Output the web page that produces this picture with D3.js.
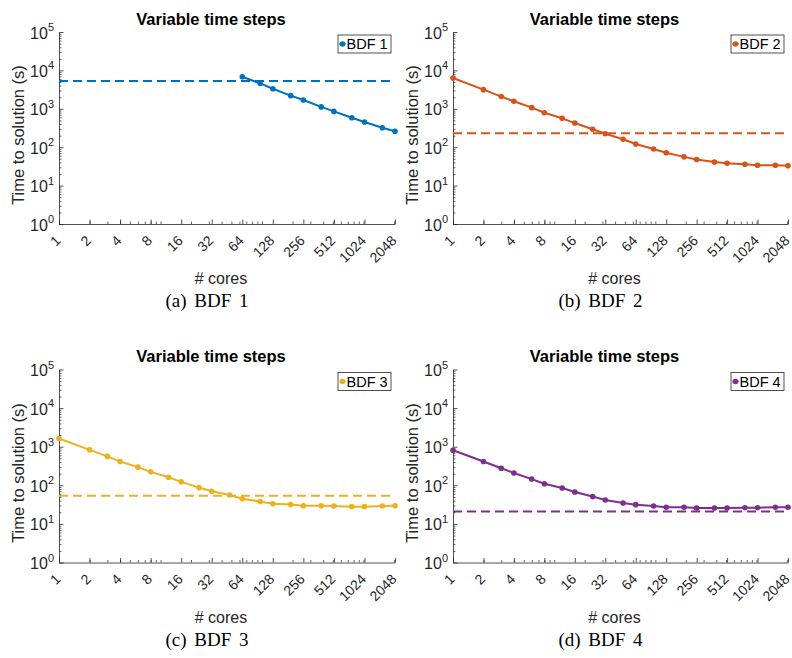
<!DOCTYPE html>
<html><head><meta charset="utf-8">
<script src="https://cdn.jsdelivr.net/npm/d3@7"></script>
<style>body{margin:0;background:#fff}</style>
</head><body><svg id="chart" width="792" height="658"></svg>
<script>
// ---------- data ----------
const cores = [1,2,3,4,6,8,12,16,24,32,48,64,96,128,192,256,384,512,768,1024,1536,2048];
const coresBDF1 = [64,96,128,192,256,384,512,768,1024,1536,2048];
const xTickValues = [1,2,4,8,16,32,64,128,256,512,1024,2048];
const yTickExponents = [0,1,2,3,4,5];

const bdf1 = [6850,4600,3320,2200,1700,1120,855,585,455,322,260];
const bdf2 = [6340,3150,2080,1570,1070,790,565,425,294,225,161,121,90,72,56,48,41,38,36,34,34,33];
const bdf3 = [1630,830,560,415,295,223,162,123,87,70,56,45,38,33.3,31.6,29.6,29.6,29,28,28,29,29.5];
const bdf4 = [810,415,277,209,145,110,85,67,51,41.5,34.8,31.5,29,27,27,25.8,25.8,25.8,26.3,26.3,27,27];
const refTimes = [5300,230,54,21];

const seriesNames = ["BDF 1","BDF 2","BDF 3","BDF 4"];
const captions = ["(a) BDF 1","(b) BDF 2","(c) BDF 3","(d) BDF 4"];
const titleText = "Variable time steps";
const xLabel = "# cores";
const yLabel = "Time to solution (s)";

// ---------- layout / style ----------
const colors = ["#0072BD","#D95319","#EDB120","#7E2F8E"];
const axisColor = "#262626";
const panels = [
  {left:59, right:395, top:32, bottom:224},
  {left:453, right:788, top:32, bottom:224},
  {left:59, right:395, top:369.5, bottom:562.5},
  {left:453, right:788, top:369.5, bottom:562.5}
];
const seriesX = [coresBDF1, cores, cores, cores];
const seriesY = [bdf1, bdf2, bdf3, bdf4];

const svg = d3.select("#chart");
const sans = "'Liberation Sans', Arial, Helvetica, sans-serif";

// minor ticks (MATLAB-style log minor ticks)
const xMinor = [];
for (let k = 0; k <= 3; k++) for (let m = 1; m <= 9; m++) { const v = m * Math.pow(10,k); if (v >= 1 && v <= 2048) xMinor.push(v); }
const yMinor = [];
for (let k = 0; k <= 4; k++) for (let m = 2; m <= 9; m++) yMinor.push(m * Math.pow(10,k));

panels.forEach((p, i) => {
  const x = d3.scaleLog().base(2).domain([1,2048]).range([p.left, p.right]);
  const y = d3.scaleLog().domain([1,1e5]).range([p.bottom, p.top]);
  const g = svg.append("g");

  // minor x ticks
  g.append("g").attr("transform", `translate(0,${p.bottom})`)
    .call(d3.axisBottom(x).tickValues(xMinor).tickSize(-2.5).tickSizeOuter(0).tickFormat(""))
    .call(a => a.select(".domain").remove())
    .call(a => a.selectAll("line").attr("stroke", axisColor).attr("stroke-width", 0.7));
  // minor y ticks
  g.append("g").attr("transform", `translate(${p.left},0)`)
    .call(d3.axisLeft(y).tickValues(yMinor).tickSize(-2.5).tickSizeOuter(0).tickFormat(""))
    .call(a => a.select(".domain").remove())
    .call(a => a.selectAll("line").attr("stroke", axisColor).attr("stroke-width", 0.7));

  // major x axis
  const xa = g.append("g").attr("transform", `translate(0,${p.bottom})`)
    .call(d3.axisBottom(x).tickValues(xTickValues).tickSize(-4.5).tickSizeOuter(0).tickFormat(d => d));
  xa.select(".domain").attr("stroke", axisColor).attr("stroke-width", 0.8);
  xa.selectAll("line").attr("stroke", axisColor).attr("stroke-width", 0.8);
  xa.selectAll("text")
    .attr("x", 0).attr("y", 0).attr("dy", "0.35em")
    .attr("text-anchor", "end")
    .attr("transform", "translate(-1.5,14) rotate(-45)")
    .attr("fill", axisColor)
    .style("font-family", sans).style("font-size", "14px");

  // major y axis
  const ya = g.append("g").attr("transform", `translate(${p.left},0)`)
    .call(d3.axisLeft(y).tickValues(yTickExponents.map(e => Math.pow(10,e))).tickSize(-4.5).tickSizeOuter(0).tickFormat(""));
  ya.select(".domain").attr("stroke", axisColor).attr("stroke-width", 0.8);
  ya.selectAll("line").attr("stroke", axisColor).attr("stroke-width", 0.8);
  yTickExponents.forEach(e => {
    const t = g.append("text")
      .attr("x", p.left - 5).attr("y", y(Math.pow(10,e)) + 6.5)
      .attr("text-anchor", "end").attr("fill", axisColor)
      .style("font-family", sans).style("font-size", "16px");
    t.append("tspan").text("10");
    t.append("tspan").attr("dy", -7.5).style("font-size", "11px").text(String(e));
  });

  // reference dashed line
  g.append("line")
    .attr("x1", x(1)).attr("x2", x(2048))
    .attr("y1", y(refTimes[i])).attr("y2", y(refTimes[i]))
    .attr("stroke", colors[i]).attr("stroke-width", 2)
    .attr("stroke-dasharray", "9,5");

  // series line
  const pts = seriesX[i].map((c, j) => [c, seriesY[i][j]]);
  g.append("path").datum(pts)
    .attr("d", d3.line().x(d => x(d[0])).y(d => y(d[1])))
    .attr("fill", "none").attr("stroke", colors[i]).attr("stroke-width", 2)
    .attr("stroke-linejoin", "round");
  g.selectAll("circle.pt").data(pts).enter().append("circle")
    .attr("cx", d => x(d[0])).attr("cy", d => y(d[1])).attr("r", 2.8)
    .attr("fill", colors[i]);

  // title
  const cx = (p.left + p.right) / 2;
  g.append("text").attr("x", cx - 16).attr("y", p.top - 7.5)
    .attr("text-anchor", "middle").attr("fill", "#000")
    .style("font-family", sans).style("font-size", "16.5px").style("font-weight", "bold")
    .text(titleText);

  // x label
  g.append("text").attr("x", cx - 6).attr("y", p.bottom + 60)
    .attr("text-anchor", "middle").attr("fill", axisColor)
    .style("font-family", sans).style("font-size", "16px")
    .text(xLabel);

  // y label
  const ly = (p.top + p.bottom) / 2 + 7;
  g.append("text")
    .attr("transform", `translate(${p.left - 35},${ly}) rotate(-90)`)
    .attr("text-anchor", "middle").attr("fill", axisColor)
    .style("font-family", sans).style("font-size", "16.5px")
    .text(yLabel);

  // legend
  const bx = p.right - 57, by = p.top + 3, bw = 53, bh = 18;
  g.append("rect").attr("x", bx).attr("y", by).attr("width", bw).attr("height", bh)
    .attr("fill", "#fff").attr("stroke", axisColor).attr("stroke-width", 0.8);
  g.append("line").attr("x1", bx + 1.5).attr("x2", bx + 7.5).attr("y1", by + bh/2).attr("y2", by + bh/2)
    .attr("stroke", colors[i]).attr("stroke-width", 2);
  g.append("circle").attr("cx", bx + 4.5).attr("cy", by + bh/2).attr("r", 2.8).attr("fill", colors[i]);
  g.append("text").attr("x", bx + 8.5).attr("y", by + bh/2 + 5)
    .attr("fill", "#000")
    .style("font-family", sans).style("font-size", "14.5px")
    .text(seriesNames[i]);

  // caption
  g.append("text").attr("x", cx - 20).attr("y", p.bottom + 83)
    .attr("text-anchor", "middle").attr("fill", "#000")
    .style("font-family", "'Liberation Serif', 'Times New Roman', serif").style("font-size", "19px")
    .style("word-spacing", "3px")
    .text(captions[i]);
});
</script></body></html>
